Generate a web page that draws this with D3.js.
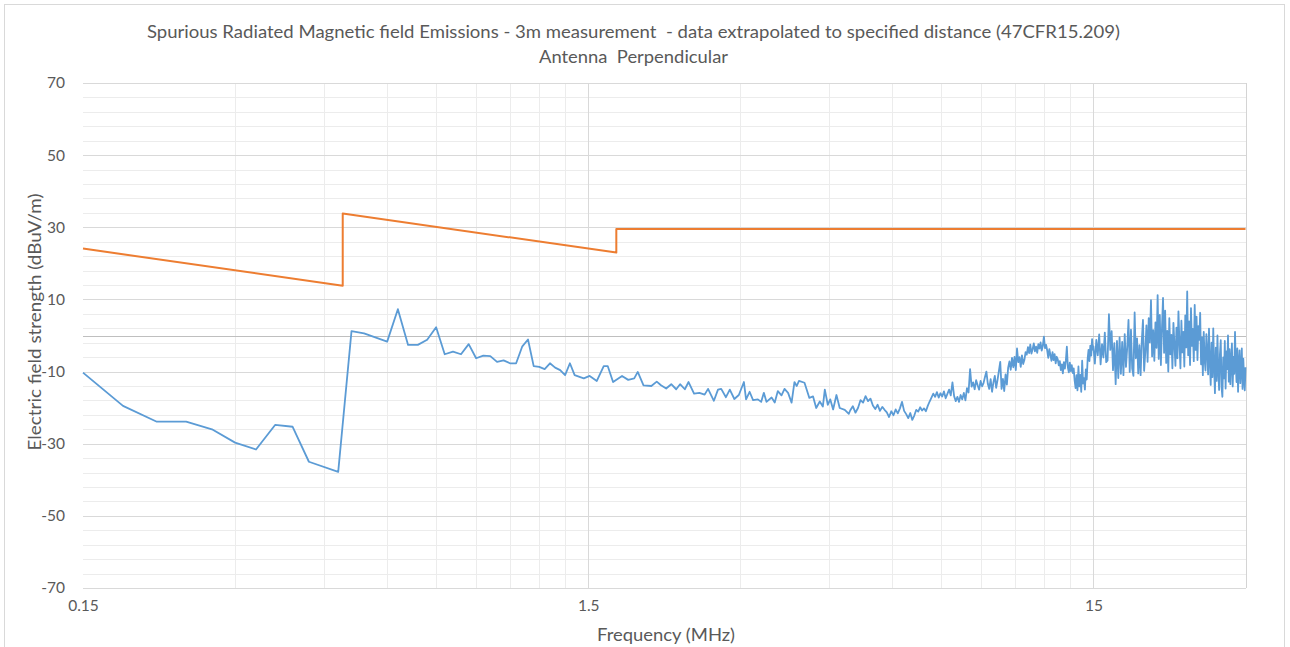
<!DOCTYPE html>
<html>
<head>
<meta charset="utf-8">
<script src="https://cdn.jsdelivr.net/npm/d3@7"></script>
<style>
  body { margin: 0; background: #fff; }
  svg { display: block; font-family: Lato, "Open Sans", sans-serif; }
  text { white-space: pre; }
</style>
</head>
<body>
<svg id="chart" width="1290" height="647"></svg>
<script>
// ---- text ----
const titleLines = [
  "Spurious Radiated Magnetic field Emissions - 3m measurement  - data extrapolated to specified distance (47CFR15.209)",
  "Antenna  Perpendicular"
];
const xAxisTitle = "Frequency (MHz)";
const yAxisTitle = "Electric field strength (dBuV/m)";

// ---- axes ----
const xDomain = [0.15, 30];
const yDomain = [-70, 70];
const xTickValues = [0.15, 1.5, 15];
const yTickValues = [70, 50, 30, 10, -10, -30, -50, -70];

// ---- 47CFR15.209 limit, extrapolated (dBuV/m) ----
const limitFreq  = [0.15, 0.49, 0.49, 1.705, 1.705, 30];
const limitLevel = [24.1, 13.8, 33.8, 23.0, 29.5, 29.5];

// ---- measured emission, lower band: [MHz, dBuV/m] ----
const sweepLow = [
  [0.15,-10.3],[0.18,-19.5],[0.21,-23.9],[0.24,-23.9],[0.27,-26.0],[0.30,-29.7],[0.33,-31.6],
  [0.36,-24.8],[0.39,-25.3],[0.42,-35.0],[0.48,-37.8],[0.51,1.2],[0.54,0.6],[0.60,-1.7],
  [0.63,7.3],[0.66,-2.6],[0.69,-2.6],[0.72,-1.2],[0.75,2.3],[0.78,-5.2],[0.81,-4.5],
  [0.84,-5.2],[0.87,-2.4],[0.90,-6.3],[0.93,-5.6],[0.96,-5.7],[0.99,-7.3],[1.02,-6.9],
  [1.05,-7.7],[1.08,-7.7],[1.11,-3.1],[1.14,-1.1],[1.17,-8.5],[1.20,-8.7],[1.23,-9.3],
  [1.26,-7.7],[1.29,-8.9],[1.32,-9.6],[1.35,-11.0],[1.38,-7.7],[1.41,-11.0],[1.47,-11.9],
  [1.51,-11.2],[1.56,-12.6],[1.61,-8.5],[1.64,-8.5],[1.68,-12.9],[1.75,-11.2],[1.80,-12.3],
  [1.85,-11.9],[1.88,-10.1],[1.93,-13.8],[2.00,-14.0],[2.05,-12.8],[2.09,-13.8],[2.14,-14.7],
  [2.19,-13.5],[2.24,-14.9],[2.28,-13.5],[2.33,-14.9],[2.37,-12.9],[2.43,-16.1],[2.49,-15.9],
  [2.55,-16.4],[2.59,-14.8],[2.66,-18.1],[2.71,-15.0],[2.75,-14.8],[2.81,-17.1],[2.86,-15.0],
  [2.92,-17.6],[2.98,-16.5],[3.05,-12.9],[3.08,-17.7],[3.13,-15.6],[3.18,-17.9],[3.25,-17.7],
  [3.30,-18.4],[3.34,-15.9],[3.38,-18.4],[3.46,-17.2],[3.51,-18.6],[3.56,-15.4],[3.62,-16.6],
  [3.67,-14.8],[3.73,-15.9],[3.79,-18.6],[3.84,-12.9],[3.88,-14.0],[3.92,-12.6],[4.02,-13.1],
  [4.11,-17.3],[4.18,-16.9],[4.24,-20.1],[4.31,-18.3],[4.37,-19.7],[4.41,-15.0],[4.47,-19.2],
  [4.52,-17.7],[4.58,-20.5],[4.65,-16.5],[4.72,-20.1],[4.83,-20.6],[4.92,-21.7]
];

// ---- measured emission, middle band (sweep start / step in MHz) ----
const sweepMidStart = 4.95, sweepMidStep = 0.06;
const sweepMidLevel = [
  -20.8,-19.6,-21.4,-20.1,-17.9,-18.6,-16.8,-18.2,-17.5,-19.4,
  -20.4,-19.2,-20.9,-19.8,-20.6,-21.3,-22.6,-21.0,-22.1,-20.5,
  -21.6,-20.2,-18.4,-20.9,-21.8,-22.9,-21.5,-23.4,-22.2,-20.6,
  -21.1,-19.9,-20.8,-20.2,-21.0,-19.5,-18.3,-17.2,-16.1,-17.0,
  -15.7,-17.2,-16.0,-16.9,-15.5,-17.4,-16.2,-15.0,-16.6,-13.0,
  -16.8,-18.2,-17.0,-18.4,-16.5,-17.7,-15.9,-18.0,-14.6,-15.8,
  -9.3,-14.2,-13.0,-14.9,-12.4,-13.8,-15.0,-12.6,-14.1,-13.2,
  -11.5,-10.0,-13.4,-14.8,-12.1,-15.6,-13.0,-11.2,-14.5,-12.3,
  -9.8,-7.3,-14.8,-12.0,-15.4,-10.8,-13.6,-8.9,-7.2,-9.5,
  -6.2,-8.8,-5.9,-9.6,-3.6,-7.4,-6.0,-8.7,-5.5,-7.9,
  -6.8,-4.6,-5.3,-3.2,-4.9,-2.5,-5.0,-3.8,-2.2,-4.4,
  -3.1,-4.8,-2.4,-3.6,-1.9,-4.2,-2.9,-0.3,-3.5,-2.6,
  -4.1,-6.2,-3.8,-5.4,-7.0,-4.6,-6.8,-5.2,-7.7,-5.9,
  -6.6,-8.3,-7.1,-9.6,-8.0,-10.5,-7.4,-9.2,-6.9,-3.1,
  -8.8,-10.2,-7.5,-9.9,-8.2,-10.4,-9.1,-12.5,-14.6,-11.0,
  -15.2,-8.6,-14.1,-10.9,-15.6,-7.0,-13.3,-11.8,-15.0,-9.4,
  -12.2,-6.5,-4.0,-7.1,-2.8,-5.6,-1.0,-3.9
];

// ---- measured emission, upper band ----
const sweepHighStart = 15.0, sweepHighStep = 0.1;
const sweepHighLevel = [
  -3.0,-7.8,-1.2,-5.5,0.3,-8.0,-2.4,-6.1,0.8,-7.4,
  -6.9,5.9,-4.0,1.2,-9.6,-2.1,-13.5,-1.5,-11.8,-0.5,
  -10.6,-1.8,-11.0,0.4,-8.7,-3.2,4.3,-10.1,1.6,-9.2,
  -11.2,6.4,-6.3,-0.8,-10.5,-2.7,-11.0,-1.4,4.3,-9.8,
  -4.6,2.8,-7.3,4.8,-1.9,9.8,-5.8,1.5,-7.0,3.6,
  -3.4,11.2,-6.5,5.7,-8.2,2.1,10.4,-4.8,6.9,-7.6,
  1.3,-10.0,4.8,-5.2,0.2,-9.1,3.5,-2.6,-8.4,2.2,
  -6.3,6.7,-2.0,-9.1,4.1,-4.7,1.0,-8.6,5.6,-3.3,
  12.2,-5.5,3.9,-8.2,7.6,-2.9,1.8,-7.1,8.5,-4.0,
  5.2,-6.8,2.6,-1.2,6.3,-8.0,-0.5,-11.0,1.0,-6.6,
  -9.7,0.4,-4.5,-10.8,1.9,-7.2,-13.7,-2.0,-11.5,2.0,
  -8.9,-16.0,-3.4,-12.6,0.0,-9.8,-15.1,-5.2,-1.3,-14.4,
  -17.0,-6.1,-11.9,-1.5,-14.7,-4.4,-9.3,0.0,-12.8,-3.8,
  -13.5,-7.0,-2.2,-14.1,-5.9,-10.6,1.0,-8.1,-12.9,-3.6,
  -15.6,-7.7,-4.1,-13.2,-9.5,-3.6,-14.8,-6.4,-11.7,-15.2,-8.8
];

// ---- assemble series ----
const limitData = limitFreq.map((f, i) => [f, limitLevel[i]]);
const emissionData = sweepLow
  .concat(sweepMidLevel.map((v, i) => [sweepMidStart + i * sweepMidStep, v]))
  .concat(sweepHighLevel.map((v, i) => [sweepHighStart + i * sweepHighStep, v]));

// ---- layout ----
const plot = { left: 83, right: 1245.5, top: 83, bottom: 588 };
const textColor = "#595959";

const svg = d3.select("#chart");

// chart area frame
svg.append("rect")
  .attr("x", 4.5).attr("y", 4.5)
  .attr("width", 1280).attr("height", 700)
  .attr("fill", "#fff").attr("stroke", "#d9d9d9").attr("stroke-width", 1);

const x = d3.scaleLog().domain(xDomain).range([plot.left, plot.right]);
const y = d3.scaleLinear().domain(yDomain).range([plot.bottom, plot.top]);

const grid = svg.append("g").attr("shape-rendering", "crispEdges");

// minor horizontal gridlines
const yMinor = d3.range(yDomain[0], yDomain[1] + 0.1, 4).filter(v => !yTickValues.includes(v));
grid.selectAll(".ymin").data(yMinor).join("line")
  .attr("x1", plot.left).attr("x2", plot.right)
  .attr("y1", d => Math.round(y(d)) + 0.5).attr("y2", d => Math.round(y(d)) + 0.5)
  .attr("stroke", "#ececec");

// minor vertical gridlines (2..9 x each decade start)
const xMinor = [];
xTickValues.forEach(b => { for (let k = 2; k <= 9; k++) { const f = +(b * k).toFixed(4); if (f <= xDomain[1] + 1e-9) xMinor.push(f); } });
grid.selectAll(".xmin").data(xMinor).join("line")
  .attr("x1", d => Math.round(x(d)) + 0.5).attr("x2", d => Math.round(x(d)) + 0.5)
  .attr("y1", plot.top).attr("y2", plot.bottom)
  .attr("stroke", d => Math.abs(d - 30) < 1e-6 ? "#d4d4d4" : "#ececec");

// major horizontal gridlines
grid.selectAll(".ymaj").data(yTickValues).join("line")
  .attr("x1", plot.left).attr("x2", plot.right)
  .attr("y1", d => Math.round(y(d)) + 0.5).attr("y2", d => Math.round(y(d)) + 0.5)
  .attr("stroke", "#d9d9d9");

// major vertical gridlines
grid.selectAll(".xmaj").data(xTickValues.slice(1)).join("line")
  .attr("x1", d => Math.round(x(d)) + 0.5).attr("x2", d => Math.round(x(d)) + 0.5)
  .attr("y1", plot.top).attr("y2", plot.bottom)
  .attr("stroke", "#d9d9d9");

// horizontal axis line at 0
grid.append("line")
  .attr("x1", plot.left).attr("x2", plot.right)
  .attr("y1", Math.round(y(0)) + 0.5).attr("y2", Math.round(y(0)) + 0.5)
  .attr("stroke", "#bfbfbf");

// tick labels via d3 axes
const yAxis = d3.axisLeft(y).tickValues(yTickValues).tickSize(0).tickPadding(18).tickFormat(d => String(d));
const gy = svg.append("g").attr("transform", `translate(${plot.left},0)`).call(yAxis);
gy.select(".domain").remove();
gy.selectAll("text").attr("fill", textColor).attr("font-size", 15.5).attr("font-family", "Lato, sans-serif");

const xAxis = d3.axisBottom(x).tickValues(xTickValues).tickSize(0).tickPadding(12).tickFormat(d => String(d));
const gx = svg.append("g").attr("transform", `translate(0,${plot.bottom})`).call(xAxis);
gx.select(".domain").remove();
gx.selectAll("text").attr("fill", textColor).attr("font-size", 15.5).attr("font-family", "Lato, sans-serif");

// series
const line = d3.line().x(d => x(d[0])).y(d => y(d[1]));

svg.append("path").datum(emissionData)
  .attr("d", line)
  .attr("fill", "none").attr("stroke", "#5b9bd5").attr("stroke-width", 1.8)
  .attr("stroke-linejoin", "round");

svg.append("path").datum(limitData)
  .attr("d", line)
  .attr("fill", "none").attr("stroke", "#ed7d31").attr("stroke-width", 2)
  .attr("stroke-linejoin", "round");

// titles
svg.append("text")
  .attr("x", 633.5).attr("y", 38)
  .attr("text-anchor", "middle").attr("fill", textColor).attr("font-size", 17)
  .attr("textLength", 973).attr("lengthAdjust", "spacingAndGlyphs")
  .text(titleLines[0]);
svg.append("text")
  .attr("x", 633.5).attr("y", 63)
  .attr("text-anchor", "middle").attr("fill", textColor).attr("font-size", 17)
  .attr("textLength", 189).attr("lengthAdjust", "spacingAndGlyphs")
  .text(titleLines[1]);

svg.append("text")
  .attr("x", 666).attr("y", 641)
  .attr("text-anchor", "middle").attr("fill", textColor).attr("font-size", 16.5)
  .attr("textLength", 138).attr("lengthAdjust", "spacingAndGlyphs")
  .text(xAxisTitle);

svg.append("text")
  .attr("transform", "translate(41,322) rotate(-90)")
  .attr("text-anchor", "middle").attr("fill", textColor).attr("font-size", 16.5)
  .attr("textLength", 257).attr("lengthAdjust", "spacingAndGlyphs")
  .text(yAxisTitle);
</script>
</body>
</html>
